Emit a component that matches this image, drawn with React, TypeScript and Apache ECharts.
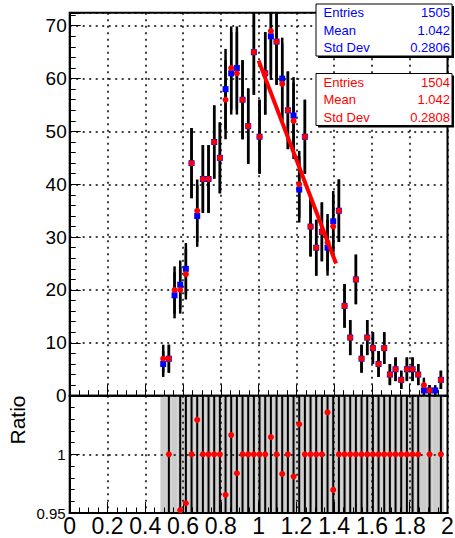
import React, { useEffect, useRef } from "react";
import * as echarts from "echarts";

// Histogram binning (50 bins of 0.03 starting at 0.48)
const binLow = 0.48;
const binWidth = 0.03;

// Counts
const redCounts = [
  7, 7, 20, 20, 23, 44, 35, 41, 41, 48, 45, 56, 62, 61, 56, 51, 65, 49, 61, 69,
  67, 59, 54, 52, 40, 49, 32, 28, 31, 29, 32, 35, 17, 11, 22, 7, 11, 9, 6, 9,
  4, 5, 3, 5, 5, 4, 2, 1, 0, 3,
];
const blueCounts = [
  6, 7, 19, 21, 24, 44, 34, 41, 41, 48, 45, 58, 61, 62, 56, 51, 65, 49, 61, 68,
  67, 60, 54, 53, 39, 49, 32, 28, 31, 28, 33, 35, 17, 11, 22, 7, 11, 9, 6, 9,
  4, 5, 3, 5, 5, 4, 1, 1, 1, 3,
];

// Fit line end points
const fitX = [1.0, 1.41];
const fitY = [63.4, 25.0];

// Stats boxes
const statsBlue = [
  ["Entries", "1505"],
  ["Mean", "1.042"],
  ["Std Dev", "0.2806"],
];
const statsRed = [
  ["Entries", "1504"],
  ["Mean", "1.042"],
  ["Std Dev", "0.2808"],
];

// Axis settings
const xMin = 0;
const xMax = 2;
const xInterval = 0.2;
const topYMax = 72.45;
const topYInterval = 10;
const ratioMin = 0.95;
const ratioMax = 1.05;
const ratioInterval = 0.05;

const FONT = "'Liberation Sans', Arial, Helvetica, sans-serif";
const BLUE = "#0000ff";
const RED = "#ff0000";

const centers = redCounts.map((_, i) => binLow + (i + 0.5) * binWidth);

function clampY(y: number, cs: any) {
  return Math.max(cs.y, Math.min(cs.y + cs.height, y));
}

function statsBox(x: number, y: number, rows: string[][], color: string) {
  const w = 136;
  const h = 52;
  const rowY = [8.7, 26.4, 43.6];
  const els: any[] = [
    { type: "rect", z: 100, shape: { x: x + 2, y: y + 2, width: w, height: h }, style: { fill: "#000" } },
    {
      type: "rect",
      z: 101,
      shape: { x, y, width: w, height: h },
      style: { fill: "#fff", stroke: "#000", lineWidth: 1 },
    },
  ];
  rows.forEach((r, i) => {
    els.push({
      type: "text",
      z: 102,
      x: x + 7.5,
      y: y + rowY[i],
      style: { text: r[0], fill: color, font: `13px ${FONT}`, align: "left", verticalAlign: "middle" },
    });
    els.push({
      type: "text",
      z: 102,
      x: x + 134,
      y: y + rowY[i],
      style: { text: r[1], fill: color, font: `13px ${FONT}`, align: "right", verticalAlign: "middle" },
    });
  });
  return els;
}

const gridLine = { show: true, lineStyle: { color: "#000", type: [2, 4.5], width: 1.5 } };

export default function App() {
  const ref = useRef<HTMLDivElement>(null);
  useEffect(() => {
    if (!ref.current) return;
    const chart = echarts.init(ref.current, undefined, { renderer: "svg" });

    const errData = (counts: number[]) =>
      counts
        .map((c, i) => (c > 0 ? [centers[i], c - Math.sqrt(c), c + Math.sqrt(c)] : null))
        .filter((d) => d !== null);

    const blueMarks = blueCounts.map((c, i) => (c > 0 ? [centers[i], c] : null)).filter((d) => d);
    const redMarks = redCounts.map((c, i) => (c > 0 ? [centers[i], c] : null)).filter((d) => d);

    const bandData = blueCounts
      .map((b, i) =>
        b > 0
          ? [binLow + i * binWidth, binLow + (i + 1) * binWidth, 1 - 1 / Math.sqrt(b), 1 + 1 / Math.sqrt(b)]
          : null
      )
      .filter((d) => d);

    const ratioPts: number[][] = [];
    const ratioErr: number[][] = [];
    redCounts.forEach((r, i) => {
      const b = blueCounts[i];
      if (r > 0 && b > 0) {
        const q = r / b;
        ratioPts.push([centers[i], q]);
        if (q >= ratioMin && q <= ratioMax) {
          const e = q * Math.sqrt(1 / r + 1 / b);
          ratioErr.push([centers[i], q - e, q + e]);
        }
      }
    });

    const vLine = (width: number) => (params: any, api: any) => {
      const cs = params.coordSys;
      const x = api.value(0);
      const lo = api.coord([x, api.value(1)]);
      const hi = api.coord([x, api.value(2)]);
      return {
        type: "line",
        shape: { x1: lo[0], y1: clampY(lo[1], cs), x2: hi[0], y2: clampY(hi[1], cs) },
        style: { stroke: "#000", lineWidth: width },
      };
    };

    const xAxisBase = (gridIndex: number, showLabel: boolean, z: number) => ({
      gridIndex,
      type: "value",
      min: xMin,
      max: xMax,
      interval: xInterval,
      z,
      axisLine: { show: true, onZero: false, lineStyle: { color: "#000", width: 2 } },
      axisTick: { show: true, inside: true, length: 11, lineStyle: { color: "#000", width: 1 } },
      minorTick: { show: true, splitNumber: 4, length: 5.5, lineStyle: { color: "#000", width: 1 } },
      axisLabel: {
        show: showLabel,
        color: "#000",
        fontFamily: FONT,
        fontSize: 23,
        margin: 1,
      },
      splitLine: gridLine,
    });

    chart.setOption({
      animation: false,
      backgroundColor: "#fff",
      grid: [
        {
          left: 69.7,
          top: 12.8,
          width: 377.8,
          height: 382.9,
          show: true,
          borderColor: "#000",
          borderWidth: 2,
          backgroundColor: "transparent",
          outerBoundsMode: "none",
        },
        {
          left: 69.7,
          top: 395.7,
          width: 377.8,
          height: 117.3,
          show: true,
          z: 2,
          borderColor: "#000",
          borderWidth: 2,
          backgroundColor: "transparent",
          outerBoundsMode: "none",
        },
      ],
      xAxis: [xAxisBase(0, false, 0), xAxisBase(1, true, 2)],
      yAxis: [
        {
          gridIndex: 0,
          type: "value",
          min: 0,
          max: topYMax,
          interval: topYInterval,
          axisLine: { show: true, lineStyle: { color: "#000", width: 2 } },
          axisTick: { show: true, inside: true, length: 11, lineStyle: { color: "#000", width: 1 } },
          minorTick: { show: true, splitNumber: 5, length: 6, lineStyle: { color: "#000", width: 1 } },
          axisLabel: {
            color: "#000",
            fontFamily: FONT,
            fontSize: 19,
            margin: 3,
            formatter: (v: number) => (Math.abs(v % topYInterval) < 1e-6 ? String(v) : ""),
          },
          splitLine: gridLine,
        },
        {
          gridIndex: 1,
          type: "value",
          min: ratioMin,
          max: ratioMax,
          interval: ratioInterval,
          z: 2,
          axisLine: { show: true, lineStyle: { color: "#000", width: 2 } },
          axisTick: { show: true, inside: true, length: 10, lineStyle: { color: "#000", width: 1 } },
          minorTick: { show: true, splitNumber: 5, length: 5, lineStyle: { color: "#000", width: 1 } },
          axisLabel: {
            color: "#000",
            fontFamily: FONT,
            fontSize: 15,
            margin: 4,
            formatter: (v: number) =>
              Math.abs(v - ratioMin) < 1e-6 ? "0.95" : Math.abs(v - 1) < 1e-6 ? "1" : "",
          },
          splitLine: gridLine,
        },
      ],
      series: [
        {
          type: "custom",
          name: "blueErr",
          xAxisIndex: 0,
          yAxisIndex: 0,
          renderItem: vLine(2.5),
          encode: { x: 0, y: [1, 2] },
          data: errData(blueCounts),
          z: 2,
        },
        {
          type: "custom",
          name: "redErr",
          xAxisIndex: 0,
          yAxisIndex: 0,
          renderItem: vLine(2.5),
          encode: { x: 0, y: [1, 2] },
          data: errData(redCounts),
          z: 2,
        },
        {
          type: "scatter",
          name: "blue",
          xAxisIndex: 0,
          yAxisIndex: 0,
          symbol: "rect",
          symbolSize: 6,
          itemStyle: { color: BLUE, opacity: 1 },
          data: blueMarks,
          z: 3,
        },
        {
          type: "scatter",
          name: "red",
          xAxisIndex: 0,
          yAxisIndex: 0,
          symbol: "circle",
          symbolSize: 6,
          itemStyle: { color: RED, opacity: 1 },
          data: redMarks,
          z: 4,
        },
        {
          type: "line",
          name: "fit",
          xAxisIndex: 0,
          yAxisIndex: 0,
          showSymbol: false,
          symbol: "none",
          lineStyle: { color: RED, width: 4 },
          data: fitX.map((x, i) => [x, fitY[i]]),
          z: 5,
        },
        {
          type: "custom",
          name: "band",
          xAxisIndex: 1,
          yAxisIndex: 1,
          renderItem: (params: any, api: any) => {
            const cs = params.coordSys;
            const p1 = api.coord([api.value(0), api.value(3)]);
            const p2 = api.coord([api.value(1), api.value(2)]);
            const y1 = clampY(p1[1], cs);
            const y2 = clampY(p2[1], cs);
            return {
              type: "rect",
              shape: { x: p1[0], y: y1, width: p2[0] - p1[0], height: y2 - y1 },
              style: { fill: "#cccccc" },
            };
          },
          encode: { x: [0, 1], y: [2, 3] },
          data: bandData,
          z: 1,
        },
        {
          type: "custom",
          name: "ratioErr",
          xAxisIndex: 1,
          yAxisIndex: 1,
          renderItem: vLine(2),
          encode: { x: 0, y: [1, 2] },
          data: ratioErr,
          z: 3,
        },
        {
          type: "scatter",
          name: "ratio",
          xAxisIndex: 1,
          yAxisIndex: 1,
          symbol: "circle",
          symbolSize: 6,
          clip: true,
          itemStyle: { color: RED, opacity: 1 },
          data: ratioPts,
          z: 4,
        },
      ],
      graphic: {
        elements: [
          ...statsBox(316, 4, statsBlue, BLUE),
          ...statsBox(316, 73.5, statsRed, RED),
          {
            type: "text",
            x: 17,
            y: 420,
            rotation: Math.PI / 2,
            z: 100,
            style: {
              text: "Ratio",
              fill: "#000",
              font: `21px ${FONT}`,
              align: "center",
              verticalAlign: "middle",
            },
          },
        ],
      },
    });
    return () => chart.dispose();
  }, []);
  return (
    <div
      ref={ref}
      style={{ position: "fixed", left: 0, top: 0, width: 455, height: 538, background: "#fff" }}
    />
  );
}
